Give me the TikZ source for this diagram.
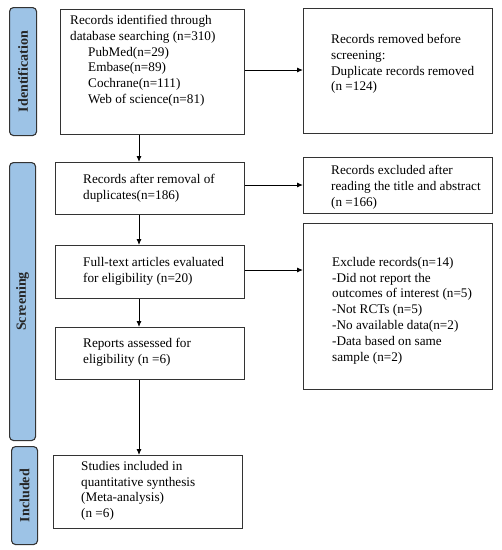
\documentclass[tikz,border=0pt]{standalone}
\usepackage{fontspec}
\setmainfont{Liberation Serif}
\usetikzlibrary{arrows.meta}
\definecolor{pillblue}{HTML}{9DC3E6}
\definecolor{edge}{HTML}{333333}
\tikzset{
  box/.style={draw=edge, line width=1.1pt, fill=white, anchor=north west, inner sep=0pt},
  pill/.style={draw=edge, line width=1.1pt, fill=pillblue, rounded corners=4pt, anchor=north west, inner sep=0pt},
  txt/.style={anchor=north west, align=left, inner sep=0pt, font=\fontsize{13.2}{15.8}\selectfont},
  pilltxt/.style={rotate=90, font=\bfseries\fontsize{14}{16}\selectfont, inner sep=0pt, text=black!85},
  arr/.style={draw=black, line width=0.9pt, -{Latex[length=6pt,width=5pt]}}
}
\begin{document}
\begin{tikzpicture}[x=1pt,y=-1pt]
\useasboundingbox (0,0) rectangle (502,550);
% phase pills
\node[pill, minimum width=27pt, minimum height=128pt] (p1) at (9,7) {};
\node[pill, minimum width=26pt, minimum height=278pt] (p2) at (9,162) {};
\node[pill, minimum width=26pt, minimum height=98pt] (p3) at (11,446) {};
\node[pilltxt] (p1t) at (p1.center) {Identification};
\node[pilltxt] (p2t) at (p2.center) {Screening};
\node[pilltxt] (p3t) at (p3.center) {Included};
% left boxes
\node[box, minimum width=184pt, minimum height=125pt] (b1) at (60,9) {};
\node[box, minimum width=189pt, minimum height=52pt] (b2) at (55,162) {};
\node[box, minimum width=189pt, minimum height=53pt] (b3) at (55,245) {};
\node[box, minimum width=189pt, minimum height=52pt] (b4) at (55,327) {};
\node[box, minimum width=189pt, minimum height=73pt] (b5) at (53,455) {};
% right boxes
\node[box, minimum width=189pt, minimum height=125pt] (r1) at (303,8) {};
\node[box, minimum width=189pt, minimum height=56pt] (r2) at (303,157) {};
\node[box, minimum width=189pt, minimum height=166pt] (r3) at (303,223) {};
% texts
\node[txt] (t1) at (70,15) {Records identified through\\database searching (n=310)\\\hspace*{18pt}PubMed(n=29)\\\hspace*{18pt}Embase(n=89)\\\hspace*{18pt}Cochrane(n=111)\\\hspace*{18pt}Web of science(n=81)};
\node[txt] (t2) at (83,174) {Records after removal of\\duplicates(n=186)};
\node[txt] (t3) at (83,257) {Full-text articles evaluated\\for eligibility (n=20)};
\node[txt] (t4) at (83,338) {Reports assessed for\\eligibility (n =6)};
\node[txt] (t5) at (81,461) {Studies included in\\quantitative synthesis\\(Meta-analysis)\\(n =6)};
\node[txt] (s1) at (331,34) {Records removed before\\screening:\\Duplicate records removed\\(n =124)};
\node[txt] (s2) at (331,165) {Records excluded after\\reading the title and abstract\\(n =166)};
\node[txt] (s3) at (332,257) {Exclude records(n=14)\\-Did not report the\\outcomes of interest (n=5)\\-Not RCTs (n=5)\\-No available data(n=2)\\-Data based on same\\sample (n=2)};
% connectors
\coordinate (ax) at (139,0);
\draw[arr] (b1.south -| ax) -- (b2.north -| ax);
\draw[arr] (b2.south -| ax) -- (b3.north -| ax);
\draw[arr] (b3.south -| ax) -- (b4.north -| ax);
\draw[arr] (b4.south -| ax) -- (b5.north -| ax);
\coordinate (y1) at (0,70);
\coordinate (y2) at (0,185);
\coordinate (y3) at (0,270);
\draw[arr] (b1.east |- y1) -- (r1.west |- y1);
\draw[arr] (b2.east |- y2) -- (r2.west |- y2);
\draw[arr] (b3.east |- y3) -- (r3.west |- y3);
\end{tikzpicture}
\end{document}
